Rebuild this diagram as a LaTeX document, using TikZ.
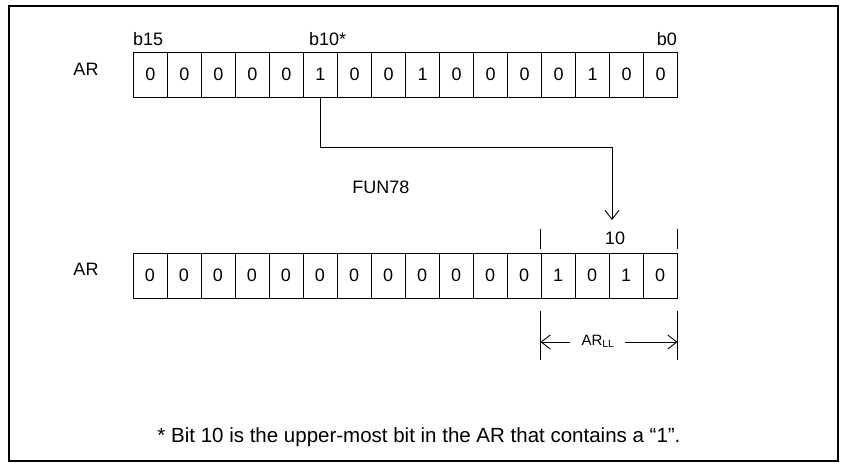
\documentclass[tikz,border=0pt]{standalone}
\usepackage{fontspec}
\setmainfont{Liberation Sans}
\usetikzlibrary{arrows.meta}
\begin{document}
\begin{tikzpicture}[x=1pt,y=-1pt,
  cell/.style={draw,line width=1pt,minimum width=34pt,minimum height=45pt,inner sep=0pt,
    font=\fontsize{18}{18}\selectfont,anchor=north west},
  lbl/.style={font=\fontsize{18}{18}\selectfont,inner sep=0pt},
  conn/.style={line width=1pt},
  barb/.style={-{Straight Barb[length=9pt,width=14pt,line width=0.9pt]}}]
\useasboundingbox (0,0) rectangle (845,469);
\draw[line width=2pt] (9,6) rectangle (838,461);
% top register
\node[lbl] (arTop) at (86,69) {AR};
\foreach \v [count=\i from 0] in {0,0,0,0,0,1,0,0,1,0,0,0,0,1,0,0}{
  \pgfmathtruncatemacro{\bit}{15-\i}
  \node[cell] (a\bit) at ({133+34*\i},52) {\raisebox{2pt}{\v}};
}
\node[lbl,anchor=south west] (b15lbl) at (133,46) {b15};
\node[lbl,anchor=south west] (b10lbl) at (309,46) {b10*};
\node[lbl,anchor=south east] (b0lbl) at (677,46) {b0};
% connector
\coordinate (bend) at (612,147);
\coordinate (tip) at (612,220);
\draw[conn] (a10.south) |- (bend);
\draw[conn,barb] (bend) -- (tip);
\node[lbl] (fun) at (381,187) {FUN78};
% bottom register
\node[lbl] (arBot) at (86,269) {AR};
\foreach \v [count=\i from 0] in {0,0,0,0,0,0,0,0,0,0,0,0,1,0,1,0}{
  \pgfmathtruncatemacro{\bit}{15-\i}
  \node[cell] (b\bit) at ({132.5+34*\i},253) {\raisebox{2pt}{\v}};
}
\node[lbl] (ten) at (615,238) {10};
\draw[conn] (b3.north west |- 0,229) -- (b3.north west |- 0,249);
\draw[conn] (b0.north east |- 0,229) -- (b0.north east |- 0,249);
% dimension
\coordinate (dl1) at (b3.south west |- 0,311);
\coordinate (dl2) at (b3.south west |- 0,360);
\coordinate (dr1) at (b0.south east |- 0,311);
\coordinate (dr2) at (b0.south east |- 0,360);
\draw[conn] (dl1) -- (dl2);
\draw[conn] (dr1) -- (dr2);
\node[font=\fontsize{15}{15}\selectfont,inner sep=0pt] (arll) at (598,341) {AR\textsubscript{LL}};
\coordinate (al) at (dl1 |- 0,342);
\coordinate (ar) at (dr1 |- 0,342);
\coordinate (als) at (570,342);
\coordinate (ars) at (625,342);
\draw[conn,barb] (als) -- (al);
\draw[conn,barb] (ars) -- (ar);
% footnote
\node[font=\fontsize{20.5}{20.5}\selectfont,inner sep=0pt] (note) at (419,437) {* Bit 10 is the upper-most bit in the AR that contains a “1”.};
\end{tikzpicture}
\end{document}
